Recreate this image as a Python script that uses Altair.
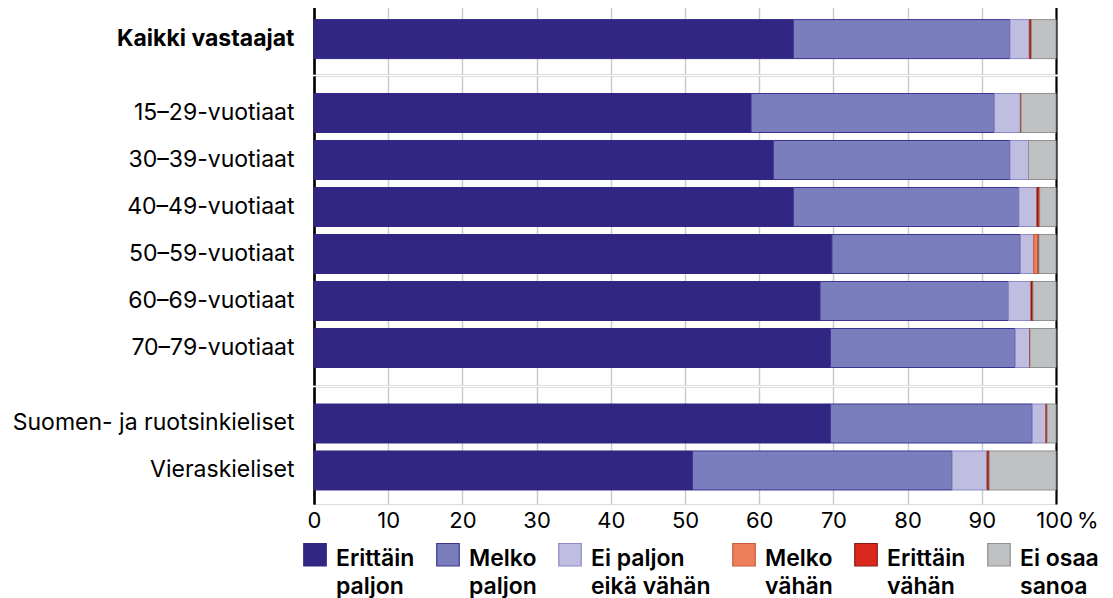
import altair as alt
import pandas as pd

# ---- data ----
groups = [
    "Kaikki vastaajat",
    "15–29-vuotiaat", "30–39-vuotiaat", "40–49-vuotiaat",
    "50–59-vuotiaat", "60–69-vuotiaat", "70–79-vuotiaat",
    "Suomen- ja ruotsinkieliset", "Vieraskieliset",
]
sections = ["all", "age", "age", "age", "age", "age", "age", "lang", "lang"]

categories = [
    "Erittäin|paljon", "Melko|paljon", "Ei paljon|eikä vähän",
    "Melko|vähän", "Erittäin|vähän", "Ei osaa|sanoa",
]
fill_colors = ["#312783", "#7a7ebd", "#bfbde0", "#ee7f5b", "#da291c", "#c0c1c3"]
stroke_colors = ["#312783", "#3b3590", "#8d89c9", "#c65b3b", "#8b1a12", "#8f9092"]

erittain_paljon = [64.6, 58.9, 61.9, 64.6, 69.8, 68.2, 69.6, 69.6, 51.0]
melko_paljon    = [29.2, 32.8, 31.9, 30.4, 25.4, 25.4, 24.9, 27.2, 35.0]
ei_paljon       = [2.6, 3.5, 2.5, 2.4, 1.8, 3.0, 2.0, 1.8, 4.7]
melko_vahan     = [0.1, 0.1, 0.0, 0.1, 0.6, 0.1, 0.0, 0.1, 0.1]
erittain_vahan  = [0.2, 0.0, 0.0, 0.3, 0.1, 0.2, 0.0, 0.1, 0.2]
ei_osaa         = [3.3, 4.7, 3.7, 2.2, 2.3, 3.1, 3.5, 1.2, 9.0]

x_ticks = [0, 10, 20, 30, 40, 50, 60, 70, 80, 90, 100]

series = [erittain_paljon, melko_paljon, ei_paljon, melko_vahan, erittain_vahan, ei_osaa]
rows = []
for gi, g in enumerate(groups):
    for ci, c in enumerate(categories):
        rows.append({"group": g, "section": sections[gi], "category": c,
                     "idx": ci, "value": series[ci][gi]})
df = pd.DataFrame(rows)

FONT = "Inter"

grid_color = {"condition": {"test": "datum.value == 0 || datum.value == 100", "value": "#000000"},
              "value": "#c9c9c9"}
grid_width = {"condition": {"test": "datum.value == 0 || datum.value == 100", "value": 2.2},
              "value": 1.4}

legend = alt.Legend(
    title=None, orient="none", direction="horizontal", columns=6,
    legendX=-11, legendY=547,
    labelExpr="split(datum.label, '|')",
    labelFontSize=23, labelFontWeight=600, labelFont=FONT, labelColor="black",
    labelBaseline="alphabetic",
    symbolType="M-1,-2H1V0H-1Z", symbolSize=506, symbolStrokeWidth=1.2,
    labelOffset=9, columnPadding=19, labelLimit=300,
)


def panel(section, height, pad_outer, align, show_axis, bold=False):
    sub = [g for g, s in zip(groups, sections) if s == section]
    if show_axis:
        xaxis = alt.Axis(values=x_ticks, grid=True, gridColor=grid_color, gridWidth=grid_width,
                         domain=False, ticks=False, labels=True, title=None, labelFlush=False,
                         labelFontSize=22, labelFont=FONT, labelColor="black", labelPadding=6,
                         labelExpr="datum.value == 100 ? '100\u202f%' : datum.label",
                         labelOffset={"condition": {"test": "datum.value == 100", "value": 11}, "value": 0})
    else:
        xaxis = alt.Axis(values=x_ticks, grid=True, gridColor=grid_color, gridWidth=grid_width,
                         domain=False, ticks=False, labels=False, title=None)
    return alt.Chart(df).transform_filter(
        alt.datum.section == section
    ).mark_bar(strokeWidth=1).encode(
        x=alt.X("value:Q", stack="zero", scale=alt.Scale(domain=[0, 100], nice=False), axis=xaxis),
        y=alt.Y("group:N", sort=sub, title=None,
                scale=alt.Scale(paddingInner=0.17, paddingOuter=pad_outer, align=align),
                axis=alt.Axis(ticks=False, domain=True, domainColor="black", domainWidth=2.2,
                              labelFontSize=23, labelFont=FONT, labelColor="black",
                              labelFontWeight="bold" if bold else "normal",
                              labelPadding=20, labelLimit=400, minExtent=300, maxExtent=300)),
        color=alt.Color("category:N", scale=alt.Scale(domain=categories, range=fill_colors), legend=legend),
        stroke=alt.Stroke("category:N", scale=alt.Scale(domain=categories, range=stroke_colors), legend=legend),
        order=alt.Order("idx:Q"),
    ).properties(width=742, height=height)


chart = alt.vconcat(
    panel("all", 67, 0.298, 0.45, False, bold=True),
    panel("age", 309, 0.372, 0.5, False),
    panel("lang", 117, 0.33, 0.548, True),
    spacing=0,
).properties(
    padding={"left": 3, "top": -2, "right": 4, "bottom": 0},
    background="white",
).configure_view(stroke=None).configure(
    font=FONT, style={"guide-label": {"lineHeight": 28}}
)

chart.save("out.html", embed_options={"renderer": "svg", "actions": False})
